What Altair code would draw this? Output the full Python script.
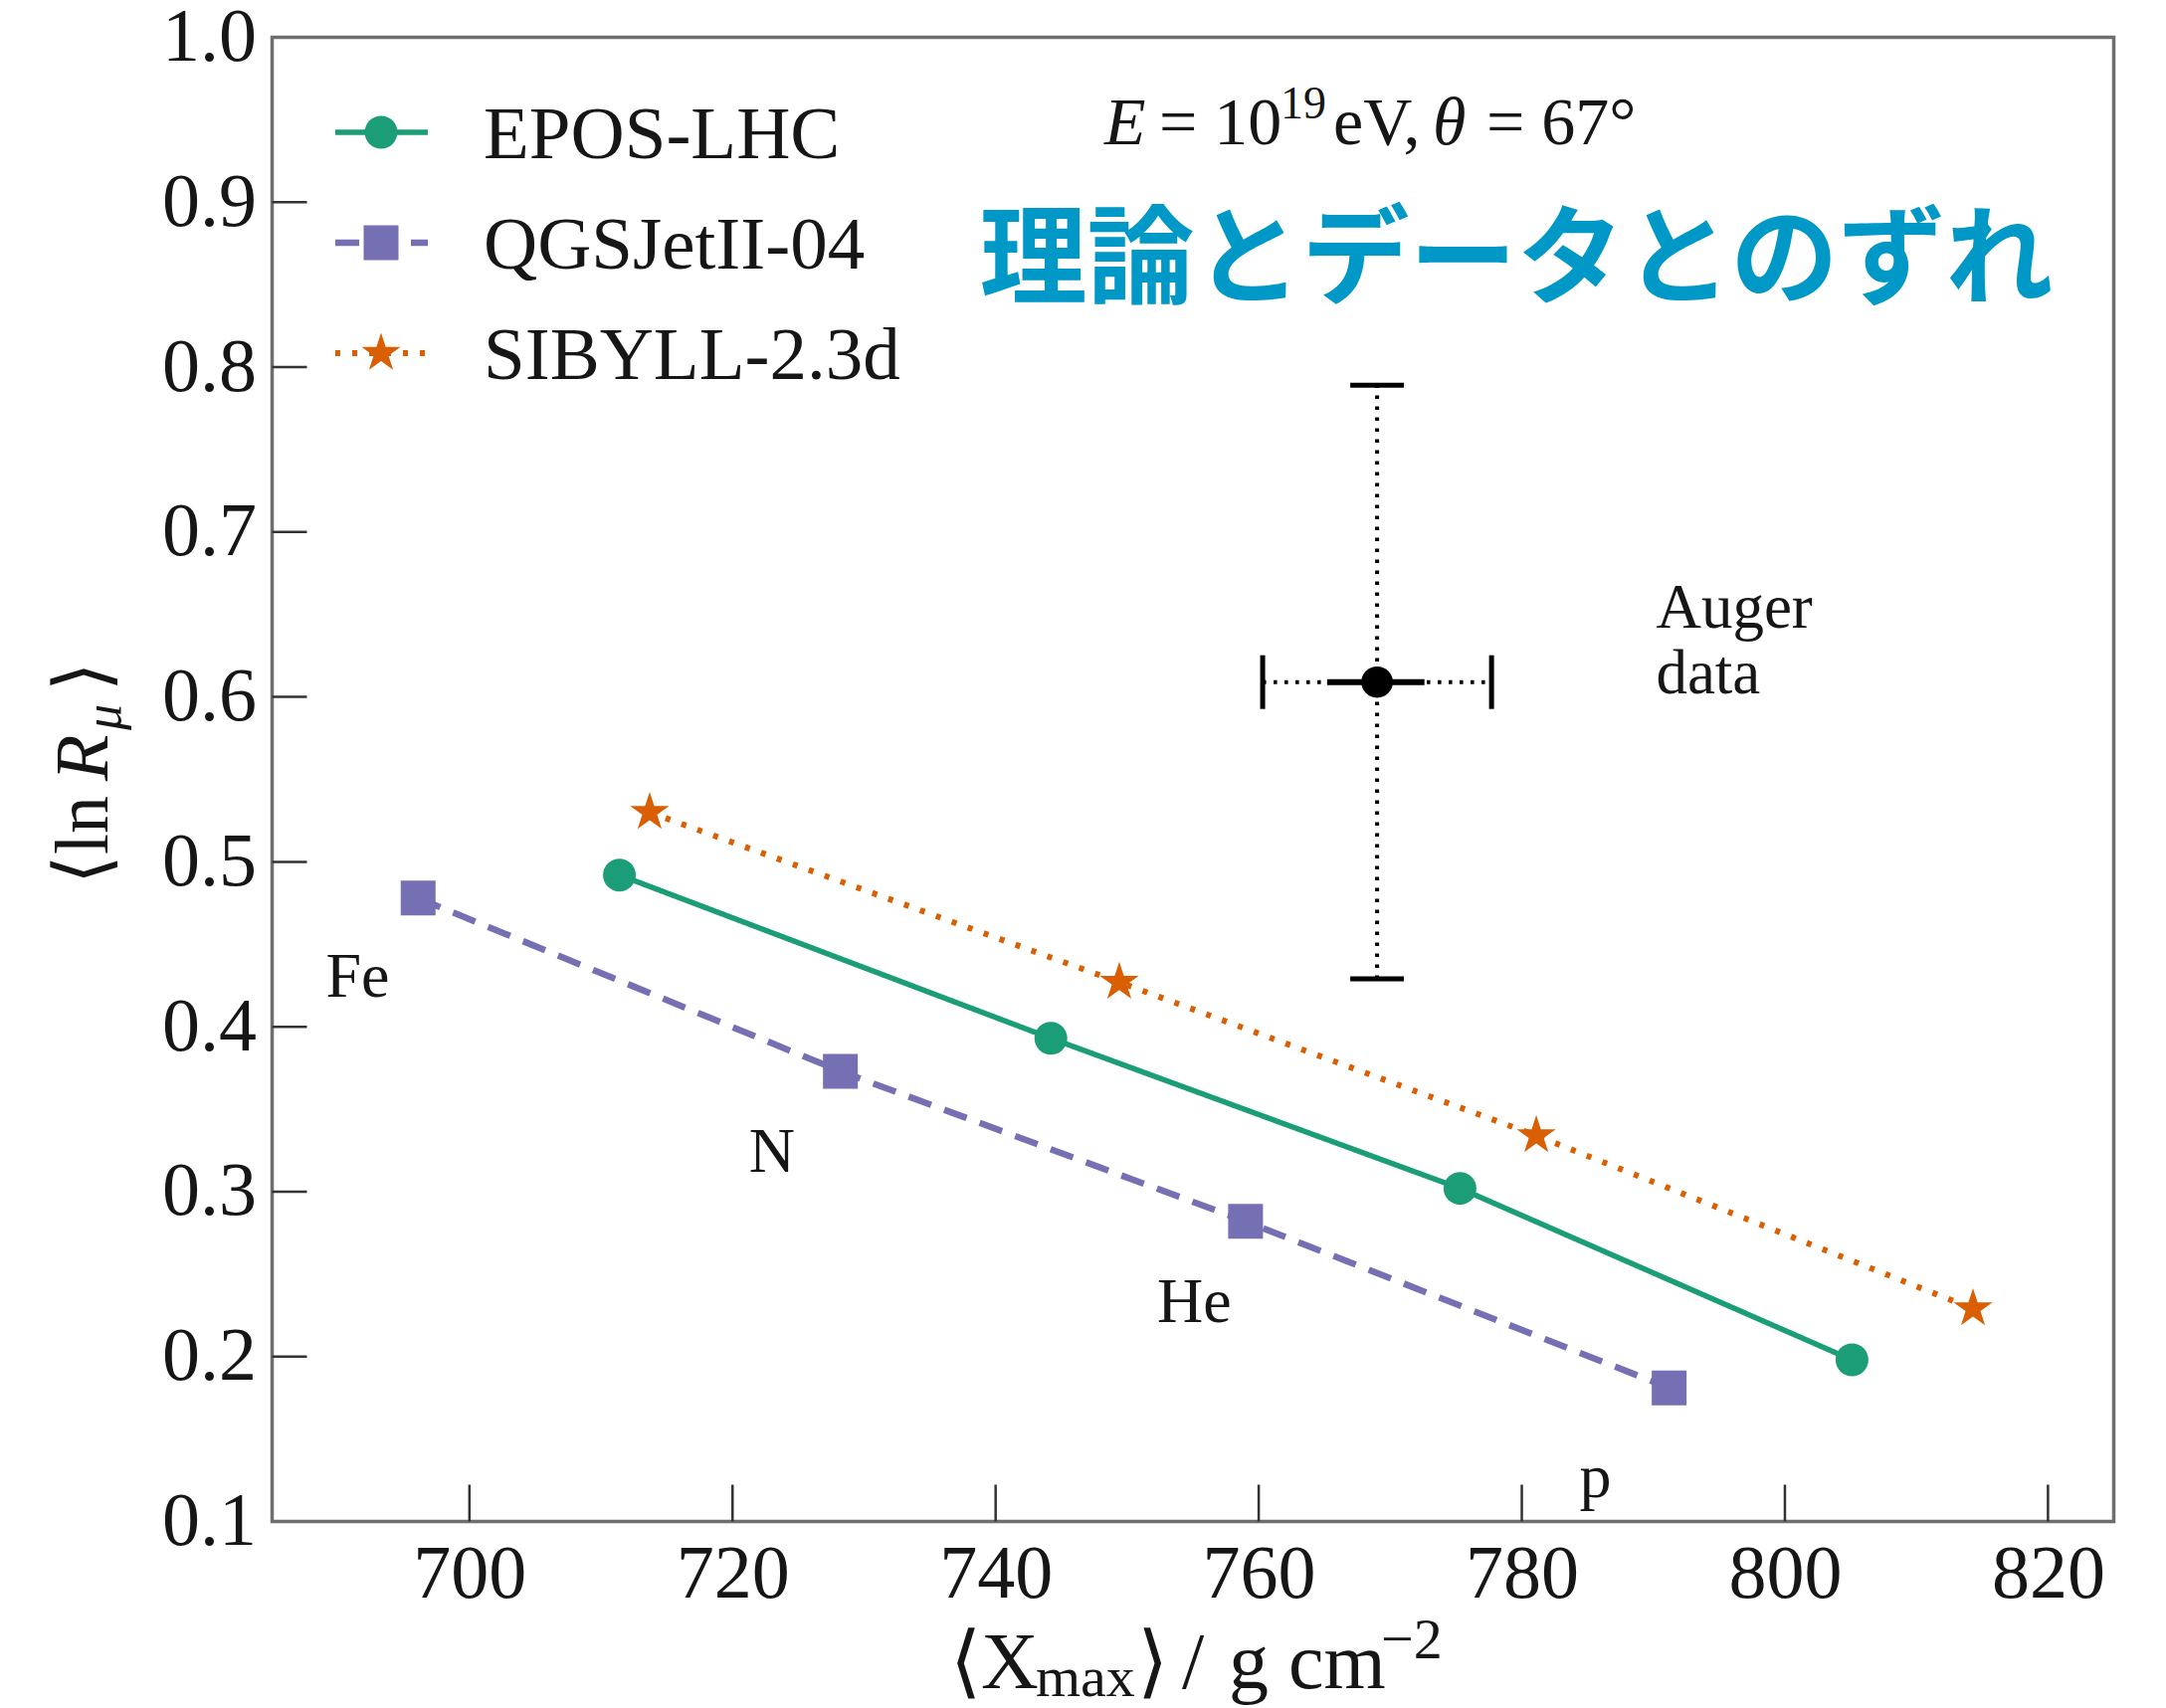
import altair as alt
import pandas as pd

# ---------------- data ----------------
models = ["EPOS-LHC", "QGSJetII-04", "SIBYLL-2.3d"]
colors = ["#1b9e77", "#7570b3", "#d95f02"]

epos_x = [711.4, 744.2, 775.3, 805.1]
epos_y = [0.492, 0.393, 0.302, 0.198]
qgs_x = [696.1, 728.2, 759.0, 791.2]
qgs_y = [0.478, 0.373, 0.282, 0.181]
sib_x = [713.7, 749.4, 781.1, 814.3]
sib_y = [0.530, 0.427, 0.334, 0.229]

auger_x = [769.0]
auger_y = [0.609]
auger_x_sys = [760.3, 777.7]
auger_x_stat = [765.2, 772.6]
auger_y_err = [0.429, 0.789]

primaries = ["Fe", "N", "He", "p"]
primary_x = [691.5, 723.0, 755.1, 785.6]
primary_y = [0.418, 0.312, 0.221, 0.115]

x_ticks = [700, 720, 740, 760, 780, 800, 820]
y_ticks = [0.1, 0.2, 0.3, 0.4, 0.5, 0.6, 0.7, 0.8, 0.9, 1.0]

# ---------------- styling ----------------
STAR = ("M0,-1L0.2245,-0.309L0.951,-0.309L0.363,0.118L0.588,0.809L0,0.382"
        "L-0.588,0.809L-0.363,0.118L-0.951,-0.309L-0.2245,-0.309Z")
shapes = ["circle", "square", STAR]
dashes = [[1, 0], [24, 14], [5, 12]]
widths = [5.5, 6.5, 6]
sizes = [1089, 1225, 1700]

W, H = 1851, 1492
SERIF = "Liberation Serif"
INK = "#161616"

df = pd.DataFrame({
    "model": ["EPOS-LHC"] * 4 + ["QGSJetII-04"] * 4 + ["SIBYLL-2.3d"] * 4,
    "x": epos_x + qgs_x + sib_x,
    "y": epos_y + qgs_y + sib_y,
})

xscale = alt.Scale(domain=[685, 825], nice=False, zero=False)
yscale = alt.Scale(domain=[0.1, 1.0], nice=False, zero=False)
xaxis = alt.Axis(values=x_ticks, title=None, grid=False, ticks=False, tickSize=0,
                 domain=False, labelFont=SERIF, labelFontSize=76, labelColor=INK,
                 labelPadding=16, labelFlush=False, labelOverlap=False, orient="bottom")
yaxis = alt.Axis(values=y_ticks, format=".1f", title=None, grid=False, ticks=False,
                 tickSize=0, domain=False, labelFont=SERIF, labelFontSize=76,
                 labelColor=INK, labelPadding=16, labelFlush=False, labelOverlap=False,
                 orient="left")

X = alt.X("x:Q", scale=xscale, axis=xaxis)
Y = alt.Y("y:Q", scale=yscale, axis=yaxis)

layers = []
for i, m in enumerate(models):
    sub = df[df["model"] == m]
    layers.append(alt.Chart(sub).mark_line(
        color=colors[i], strokeWidth=widths[i], strokeDash=dashes[i]).encode(x=X, y=Y))
for i, m in enumerate(models):
    sub = df[df["model"] == m]
    layers.append(alt.Chart(sub).mark_point(
        filled=True, opacity=1, color=colors[i], shape=shapes[i], size=sizes[i]).encode(x=X, y=Y))

# inward ticks
layers.append(alt.Chart(pd.DataFrame({"x": x_ticks})).mark_rule(color="#333", strokeWidth=2.5).encode(
    x=X, y=alt.value(H), y2=alt.value(H - 37)))
layers.append(alt.Chart(pd.DataFrame({"y": y_ticks[1:-1]})).mark_rule(color="#333", strokeWidth=2.5).encode(
    y=Y, x=alt.value(0), x2=alt.value(35)))

# primary labels
layers.append(alt.Chart(pd.DataFrame({"t": primaries, "x": primary_x, "y": primary_y})).mark_text(
    font=SERIF, fontSize=64, color=INK, align="center", baseline="alphabetic").encode(
    x=X, y=Y, text="t:N"))

# Auger data point with errors
hdf = pd.DataFrame({"x": [auger_x_sys[0]], "x2": [auger_x_sys[1]], "y": auger_y})
vdf = pd.DataFrame({"x": auger_x, "y": [auger_y_err[0]], "y2": [auger_y_err[1]]})
sdf = pd.DataFrame({"x": [auger_x_stat[0]], "x2": [auger_x_stat[1]], "y": auger_y})
layers.append(alt.Chart(hdf).mark_rule(color="black", strokeWidth=4, strokeDash=[3.5, 7.5]).encode(
    x=X, x2="x2:Q", y=Y))
layers.append(alt.Chart(vdf).mark_rule(color="black", strokeWidth=4, strokeDash=[3.5, 7.5]).encode(
    x=X, y=Y, y2="y2:Q"))
layers.append(alt.Chart(sdf).mark_rule(color="black", strokeWidth=6).encode(
    x=X, x2="x2:Q", y=Y))
layers.append(alt.Chart(pd.DataFrame({"x": auger_x * 2, "y": auger_y_err})).mark_tick(
    orient="horizontal", size=54, thickness=5, color="black", opacity=1).encode(x=X, y=Y))
layers.append(alt.Chart(pd.DataFrame({"x": auger_x_sys, "y": auger_y * 2})).mark_tick(
    orient="vertical", size=54, thickness=5, color="black", opacity=1).encode(x=X, y=Y))
layers.append(alt.Chart(pd.DataFrame({"x": auger_x, "y": auger_y})).mark_point(
    filled=True, opacity=1, color="black", size=1000, shape="circle").encode(x=X, y=Y))

layers.append(alt.Chart(pd.DataFrame({"t": ["Auger", "data"], "x": [790.2, 790.2], "y": [0.642, 0.602]})).mark_text(
    font=SERIF, fontSize=63, color=INK, align="left", baseline="alphabetic").encode(x=X, y=Y, text="t:N"))


def txt(text, x, y, size, style="normal", weight="normal", align="left", angle=0,
        color=INK, font=SERIF, baseline="alphabetic"):
    return alt.Chart(pd.DataFrame({"t": [text]})).mark_text(
        align=align, baseline=baseline, fontSize=size, font=font, fontStyle=style,
        fontWeight=weight, angle=angle, color=color).encode(
        text="t:N", x=alt.value(x), y=alt.value(y))


# legend
leg_y = [95.5, 206.5, 317.5]
for i, m in enumerate(models):
    layers.append(alt.Chart(pd.DataFrame({"m": [m]})).mark_rule(
        color=colors[i], strokeWidth=widths[i], strokeDash=dashes[i]).encode(
        x=alt.value(63.5), x2=alt.value(156.5), y=alt.value(leg_y[i])))
    layers.append(alt.Chart(pd.DataFrame({"m": [m]})).mark_point(
        filled=True, opacity=1, color=colors[i], shape=shapes[i], size=sizes[i]).encode(
        x=alt.value(109.5), y=alt.value(leg_y[i])))
    layers.append(txt(m, 212.5, leg_y[i] + 26, 75))

# energy / angle annotation
layers += [
    txt("E", 836.5, 107.5, 68, style="italic"),
    txt("= 10", 891.5, 107.5, 68),
    txt("19", 1013.5, 81.5, 46),
    txt("eV,", 1066.5, 107.5, 68),
    txt("θ", 1166.5, 107.5, 68, style="italic"),
    txt("= 67°", 1220.5, 107.5, 68),
]

# Japanese headline
layers.append(txt("理論とデータとのずれ", 1250.5, 227.5, 108, weight="bold", align="center",
                  color="#0098c6", font="Noto Sans CJK JP", baseline="middle"))

# x title
layers += [
    txt("⟨X", 681.5, 1659.5, 80),
    txt("max", 767.5, 1667.5, 58),
    txt("⟩", 869.5, 1659.5, 80),
    txt("/", 914.5, 1659.5, 80),
    txt("g cm", 961.5, 1659.5, 80),
    txt("−2", 1114.5, 1629.5, 58),
]
# y title (rotated)
layers += [
    txt("⟨ln", -165.5, 851.5, 76, angle=270),
    txt("R", -165.5, 747.5, 76, style="italic", angle=270),
    txt("μ", -152.5, 696.5, 52, style="italic", angle=270),
    txt("⟩", -165.5, 657.5, 76, angle=270),
]

chart = alt.layer(*layers).properties(
    width=W, height=H,
    background="white",
    autosize=alt.AutoSizeParams(type="none"),
    padding={"left": 265.5, "top": 29.5, "right": 30, "bottom": 200},
).configure_view(
    stroke="#6e6e6e", strokeWidth=3.5
)

chart.save("out.html", embed_options={"renderer": "svg", "actions": False})
